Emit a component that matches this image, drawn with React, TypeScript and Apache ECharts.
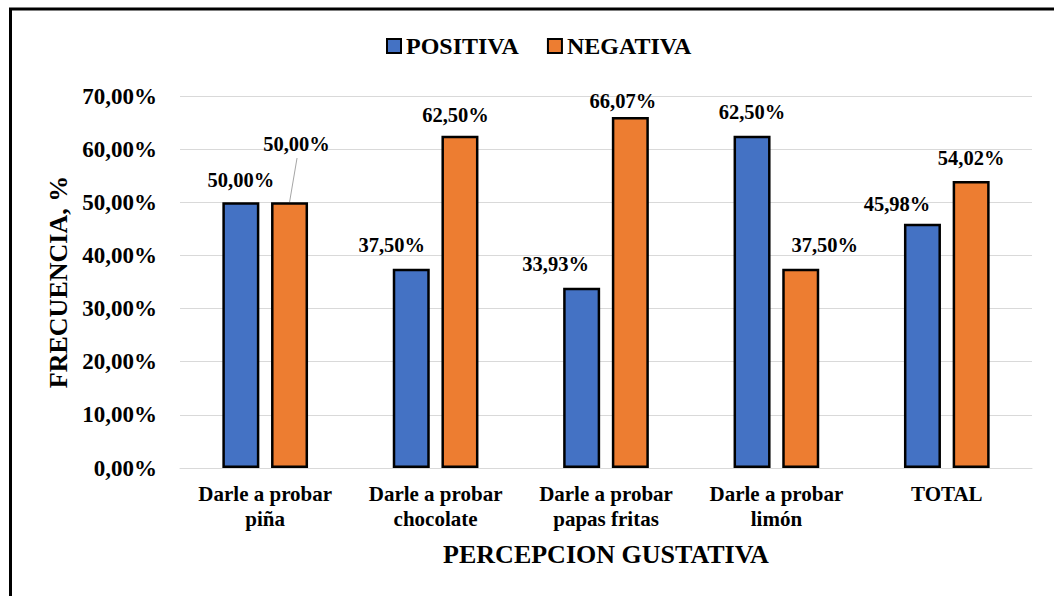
import React, { useEffect, useRef } from "react";
import * as echarts from "echarts";

const CATEGORIES = [
  "Darle a probar\npiña",
  "Darle a probar\nchocolate",
  "Darle a probar\npapas fritas",
  "Darle a probar\nlimón",
  "TOTAL",
];
const SERIES_NAMES = ["POSITIVA", "NEGATIVA"];
const POSITIVA = [50.0, 37.5, 33.93, 62.5, 45.98];
const NEGATIVA = [50.0, 62.5, 66.07, 37.5, 54.02];
const Y_MIN = 0;
const Y_MAX = 70;
const Y_INTERVAL = 10;

// label nudges (px) to mimic the reference's label placement
const POS_LABEL_OFFSETS = [[0, -7], [-19.5, -8], [-26, -8], [0, -8], [-25.5, -4.5]];
const NEG_LABEL_OFFSETS = [[7, -43], [-4.5, -5], [-7.5, 0], [24, -8.5], [0, -7]];

const FONT = "'Liberation Serif', 'Times New Roman', serif";
const BAR_WIDTH = 37;
const BAR_GAP = 0.316;

const fmt = (v: number) => v.toFixed(2).replace(".", ",") + "%";

export default function App() {
  const ref = useRef<HTMLDivElement>(null);
  useEffect(() => {
    if (!ref.current) return;
    const chart = echarts.init(ref.current, null, { renderer: "svg" });
    const labelBase = {
      show: true,
      position: "top",
      distance: 5,
      fontFamily: FONT,
      fontWeight: "bold",
      fontSize: 20.5,
      color: "#000",
      formatter: (p: any) => fmt(p.value),
    };
    const border = {
      type: "rect",
      silent: true,
      shape: { x: 10.5, y: 9, width: 3000, height: 3000 },
      style: { fill: "none", stroke: "#000", lineWidth: 3 },
    };
    chart.setOption({
      animation: false,
      backgroundColor: "#fff",
      legend: {
        left: 381,
        top: 29,
        itemWidth: 14,
        itemHeight: 14,
        itemGap: 28,
        icon: "rect",
        itemStyle: { borderWidth: 2, borderColor: "#000" },
        textStyle: { fontFamily: FONT, fontWeight: "bold", fontSize: 24, color: "#000" },
        data: SERIES_NAMES,
      },
      grid: { left: 180, right: 22, top: 96, bottom: 128, outerBoundsMode: "none" },
      xAxis: {
        type: "category",
        data: CATEGORIES,
        axisTick: { show: false },
        axisLine: { lineStyle: { color: "#D9D9D9", width: 1 } },
        axisLabel: {
          interval: 0,
          margin: 13,
          fontFamily: FONT,
          fontWeight: "bold",
          fontSize: 21,
          lineHeight: 25,
          color: "#000",
        },
        name: "PERCEPCION GUSTATIVA",
        nameLocation: "middle",
        nameGap: 73,
        nameTextStyle: { fontFamily: FONT, fontWeight: "bold", fontSize: 26, color: "#000" },
      },
      yAxis: {
        type: "value",
        min: Y_MIN,
        max: Y_MAX,
        interval: Y_INTERVAL,
        axisLine: { show: false },
        axisTick: { show: false },
        splitLine: { lineStyle: { color: "#D9D9D9", width: 1 } },
        axisLabel: {
          margin: 23,
          fontFamily: FONT,
          fontWeight: "bold",
          fontSize: 23,
          color: "#000",
          formatter: (v: number) => fmt(v),
        },
        name: "FRECUENCIA, %",
        nameLocation: "middle",
        nameGap: 107,
        nameTextStyle: { fontFamily: FONT, fontWeight: "bold", fontSize: 26, color: "#000" },
      },
      series: [
        {
          type: "bar",
          name: SERIES_NAMES[0],
          barWidth: BAR_WIDTH,
          barGap: BAR_GAP * 100 + "%",
          itemStyle: { color: "#4472C4", borderColor: "#000", borderWidth: 2.5 },
          label: labelBase,
          data: POSITIVA.map((v, i) => ({ value: v, label: { offset: POS_LABEL_OFFSETS[i] } })),
        },
        {
          type: "bar",
          name: SERIES_NAMES[1],
          barWidth: BAR_WIDTH,
          barGap: BAR_GAP * 100 + "%",
          itemStyle: { color: "#ED7D31", borderColor: "#000", borderWidth: 2.5 },
          label: labelBase,
          data: NEGATIVA.map((v, i) => ({ value: v, label: { offset: NEG_LABEL_OFFSETS[i] } })),
        },
      ],
      graphic: [border],
    });

    // leader line for the moved label of the first NEGATIVA bar
    const pt = chart.convertToPixel({ xAxisIndex: 0, yAxisIndex: 0 }, [0, NEGATIVA[0]]) as number[];
    const half = (BAR_WIDTH + BAR_WIDTH * BAR_GAP) / 2;
    const barX = pt[0] + half;
    const barTop = pt[1];
    const off = NEG_LABEL_OFFSETS[0];
    const labelCenterY = barTop - 5 - 20.5 / 2 + off[1];
    chart.setOption({
      graphic: [
        border,
        {
          type: "line",
          silent: true,
          shape: { x1: barX + off[0] + 0.5, y1: labelCenterY + 14, x2: barX, y2: barTop },
          style: { stroke: "#A6A6A6", lineWidth: 1 },
        },
      ],
    });

    return () => chart.dispose();
  }, []);
  return (
    <div
      ref={ref}
      style={{ position: "absolute", left: 0, top: 0, width: 1054, height: 596 }}
    />
  );
}
